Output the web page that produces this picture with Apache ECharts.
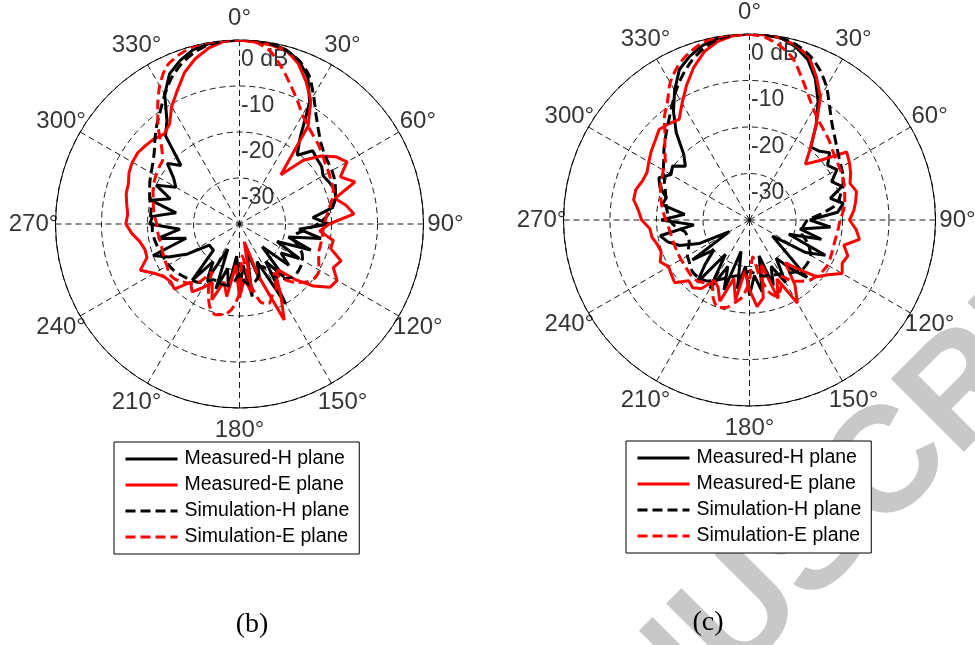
<!DOCTYPE html>
<html>
<head>
<meta charset="utf-8">
<script src="https://cdn.jsdelivr.net/npm/echarts@6/dist/echarts.min.js"></script>
<style>
  html, body { margin: 0; padding: 0; background: #ffffff; }
  #chart { width: 975px; height: 645px; }
</style>
</head>
<body>
<div id="chart"></div>
<script>
// Radiation patterns (normalised gain, dB) sampled every 5 degrees.
const angles = [0,5,10,15,20,25,30,35,40,45,50,55,60,65,70,75,80,85,90,95,100,105,110,115,
  120,125,130,135,140,145,150,155,160,165,170,175,180,185,190,195,200,205,210,215,220,225,230,235,
  240,245,250,255,260,265,270,275,280,285,290,295,300,305,310,315,320,325,330,335,340,345,350,355];

// (b)
const bMeasuredH = [0,-0.1,-0.2,-0.8,-2.2,-4.8,-9.5,-17,-20.5,-17.5,-18,-18.2,-19,-18.5,-18,-18.3,
  -19.5,-24,-20.5,-27,-22,-29,-23.5,-31,-25,-29,-26,-33,-25,-30,-20,-31,-27,-34,-24,-31,-25.5,-33,
  -26,-30,-25,-34,-26,-30,-24,-32,-32,-32,-27,-23,-20,-28,-22,-27,-20.5,-21,-26,-20,-24,-20,-24,
  -22.5,-19.5,-22,-15,-12.5,-7.5,-4,-2.2,-0.8,-0.3,0];
const bMeasuredE = [0,-0.3,-0.5,-0.9,-2.8,-5.8,-9,-14,-26,-20.5,-17,-14.5,-13,-15.8,-13.3,-18.5,
  -16.5,-15,-20.5,-22.5,-19.3,-19.5,-16.5,-17.5,-15.5,-16,-19,-23,-27,-26,-22,-17,-28,-36,-25,-28,
  -24,-31,-24,-27,-22.5,-26,-24,-22,-23.5,-20,-20.5,-20,-18.6,-16.2,-18.6,-18.7,-18,-16.5,-15.3,
  -15.6,-15.1,-14.5,-14.3,-13.5,-13.1,-13,-13.4,-13.8,-14.5,-13.5,-10.5,-8,-5,-2.8,-1.2,-0.2];
const bSimH = [0,-0.1,-0.3,-0.9,-2.2,-4.3,-7.8,-11,-13.3,-15,-16,-16.5,-16.8,-17.2,-17.8,-18.5,
  -19.5,-21,-23,-25.5,-27.5,-28,-26.5,-25,-24.2,-23.8,-23.6,-23.7,-24.5,-26,-29,-30,-28,-27,-26.5,
  -27.5,-29,-27.5,-26.5,-26.3,-26.5,-26.6,-25.5,-24.5,-24,-23.5,-23,-22.5,-22.2,-22,-21.8,-21.5,
  -21.2,-21,-21,-20.6,-20.5,-19.8,-19.2,-18.5,-17.8,-17,-15.8,-14,-12,-10,-7.5,-5,-3,-1.5,-0.5,-0.1];
const bSimE = [0,-0.3,-1.8,-4.7,-7.7,-10.3,-12.6,-14,-15,-15.7,-16.5,-17.2,-17.6,-18,-18.3,-19.2,
  -20.2,-21,-21.6,-21.8,-21.8,-21.8,-21.7,-21,-20,-19.8,-20.5,-22,-24,-27,-24,-23,-21.5,-22.5,-27,
  -33,-25,-21.5,-20,-19.6,-21,-24,-28,-24.5,-23.2,-22.3,-21.5,-21.3,-21.8,-22,-22.2,-22.4,-22.3,
  -22.1,-22,-21.5,-21,-20.6,-20,-19.4,-19,-18.6,-18.2,-16,-12.5,-9,-5.3,-2.3,-1,-0.2,0,0];

// (c)
const cMeasuredH = [0,0,-0.3,-1.5,-3.3,-6.5,-10.5,-15,-19.5,-19,-17.5,-19.5,-18.3,-20.5,-18.8,-22,
  -19.5,-21,-27,-22.5,-29,-24,-31,-22,-26,-34,-31,-22.5,-26.5,-30,-24.5,-29,-25,-32,-24.3,-28,-23.8,
  -30,-25,-33,-24,-29,-23,-31,-22.5,-26.5,-30,-25,-35,-28,-24,-21.8,-20.5,-28,-21,-26,-20.9,-21.5,
  -19.5,-18.5,-20.5,-19.8,-22,-20,-15.5,-11.5,-7.8,-4.3,-2.5,-1.1,-0.4,-0.1];
const cMeasuredE = [0,0,-0.3,-1.2,-2.6,-6,-9.5,-15,-19.5,-23,-20,-14.5,-15.2,-16,-17,-16.2,-16.8,
  -17.5,-18.5,-17,-16,-19,-17.5,-18,-17,-19.5,-21,-25,-28,-23,-19.4,-26,-22,-30,-23,-21.3,-25,-29,
  -22.5,-27,-21.4,-24,-25,-22,-21,-21.5,-19,-19.5,-19.9,-18.8,-19.8,-19.5,-18.7,-18.5,-16.8,-16,
  -14.7,-14.7,-15.5,-15.7,-15,-14.2,-13.5,-12.5,-13,-13.6,-11,-8,-5,-2.5,-1,-0.2];
const cSimH = [0,-0.1,-0.3,-1,-2.3,-4.3,-6.9,-10,-12.5,-14.2,-15.5,-16.5,-17.2,-17.8,-18.6,-19.8,
  -21,-24.5,-27.5,-28.2,-28.5,-28.3,-27,-25.8,-24.8,-24.5,-24.4,-24.5,-25.3,-26,-26.5,-27,-27.5,
  -27.5,-28,-28.5,-29,-28.5,-28,-27.5,-27,-26,-25,-24,-23.6,-23.4,-23.6,-24.2,-24.6,-25.5,-26.2,
  -26.2,-25.8,-24,-22.8,-22.3,-21.8,-21.4,-20.7,-19.8,-18.6,-17.5,-16,-14.5,-12.8,-10.7,-8.2,-5.8,
  -3.6,-1.8,-0.6,-0.1];
const cSimE = [0,-0.6,-2,-4,-7.3,-10.2,-12.5,-14,-15,-15.8,-16.7,-17.3,-17.6,-17.9,-18.3,-18.8,
  -19.2,-19.8,-20.5,-20.8,-21,-21.1,-21,-20.8,-20.6,-20.8,-21.2,-21.7,-22.8,-24,-26,-24,-22.5,-24,
  -28,-32,-27,-23.5,-22,-20.5,-20,-21.5,-24,-23.5,-22.8,-22.6,-22.8,-23,-23,-23,-23,-22.9,-22.8,
  -22.5,-22,-21.4,-20.8,-20.2,-19.6,-19.2,-18.6,-17.9,-16.2,-14.3,-11.5,-9.2,-5.9,-3.5,-1.8,-0.6,
  -0.1,0];

const ringLevels = [0, -10, -20, -30];
const angleTicks = [0, 30, 60, 90, 120, 150, 180, 210, 240, 270, 300, 330];
const seriesNames = ['Measured-H plane', 'Measured-E plane', 'Simulation-H plane', 'Simulation-E plane'];
const captions = ['(b)', '(c)'];

const SANS = '"Liberation Sans", Arial, Helvetica, sans-serif';
const SERIF = '"Liberation Serif", "Times New Roman", serif';
const BLACK = '#000000';
const RED = '#ff0000';

// close each trace by repeating its first value at 360 degrees
function closedTrace(values) {
  const pts = values.map((v, i) => [v, angles[i]]);
  pts.push([values[0], 360]);
  return pts;
}

function patternLine(name, polarIndex, values, color, dashed) {
  return {
    name: name,
    type: 'line',
    coordinateSystem: 'polar',
    polarIndex: polarIndex,
    data: closedTrace(values),
    symbol: 'none',
    showSymbol: false,
    smooth: dashed ? 0.25 : false,
    clip: false,
    z: 3,
    lineStyle: { color: color, width: 3, type: dashed ? [10, 5] : 'solid' },
    itemStyle: { color: color },
    emphasis: { disabled: true }
  };
}

function ringLabelSeries(polarIndex) {
  return {
    type: 'scatter',
    name: 'ring-labels-' + polarIndex,
    coordinateSystem: 'polar',
    polarIndex: polarIndex,
    data: ringLevels.map(v => [v, 0]),
    symbolSize: 1,
    itemStyle: { color: 'transparent' },
    silent: true,
    z: 2,
    label: {
      show: true,
      position: [2, 20],
      align: 'left',
      verticalAlign: 'middle',
      color: BLACK,
      fontSize: 23,
      fontFamily: SANS,
      formatter: p => (p.value[0] === 0 ? '0 dB' : String(p.value[0]))
    }
  };
}

function angleLabelSeries(polarIndex) {
  return {
    type: 'scatter',
    name: 'angle-labels-' + polarIndex,
    coordinateSystem: 'polar',
    polarIndex: polarIndex,
    data: angleTicks.map(a => [1, a]),
    symbolSize: 1,
    itemStyle: { color: 'transparent' },
    silent: true,
    label: {
      show: true,
      position: 'inside',
      color: BLACK,
      fontSize: 24,
      fontFamily: SANS,
      formatter: p => p.value[1] + '\u00b0'
    }
  };
}

const gridDash = { color: BLACK, width: 0.9, type: [6, 4] };

function mainAngleAxis(polarIndex) {
  return {
    polarIndex: polarIndex,
    type: 'value', min: 0, max: 360, interval: 30,
    startAngle: 90, clockwise: true,
    axisLine: { show: true, lineStyle: { color: BLACK, width: 1 } },
    axisTick: { show: false },
    axisLabel: { show: false },
    splitLine: { show: true, lineStyle: gridDash },
    z: 1
  };
}
function mainRadiusAxis(polarIndex) {
  return {
    polarIndex: polarIndex,
    type: 'value', min: -40, max: 0, interval: 10,
    axisLine: { show: false }, axisTick: { show: false }, axisLabel: { show: false },
    splitLine: { show: true, lineStyle: gridDash },
    z: 1
  };
}
function labelAngleAxis(polarIndex) {
  return { polarIndex: polarIndex, type: 'value', min: 0, max: 360, startAngle: 90, clockwise: true, show: false };
}
function labelRadiusAxis(polarIndex) {
  return { polarIndex: polarIndex, type: 'value', min: 0, max: 1, show: false };
}

function legendBox(left, top) {
  return {
    left: left, top: top,
    orient: 'vertical',
    data: seriesNames,
    selectedMode: false,
    itemWidth: 52, itemHeight: 20, itemGap: 6,
    padding: [7, 10, 7, 10],
    borderColor: BLACK, borderWidth: 1, borderRadius: 0,
    backgroundColor: '#ffffff',
    textStyle: { color: BLACK, fontSize: 19.5, fontFamily: SANS, padding: [0, 0, 0, 2] },
    itemStyle: { opacity: 0, borderWidth: 0 },
    lineStyle: { width: 3 },
    z: 5
  };
}

const chart = echarts.init(document.getElementById('chart'), null, { renderer: 'canvas' });

chart.setOption({
  animation: false,
  backgroundColor: '#ffffff',
  polar: [
    { center: [239.5, 224], radius: 184 },
    { center: [749.5, 220], radius: 186 },
    { center: [239.5, 224], radius: 206 },
    { center: [749.5, 220], radius: 208 }
  ],
  angleAxis: [mainAngleAxis(0), mainAngleAxis(1), labelAngleAxis(2), labelAngleAxis(3)],
  radiusAxis: [mainRadiusAxis(0), mainRadiusAxis(1), labelRadiusAxis(2), labelRadiusAxis(3)],
  legend: [legendBox(114, 442), legendBox(626, 441)],
  graphic: [
    {
      type: 'text', x: 509, y: 848, rotation: Math.PI / 4, z: -10, silent: true,
      style: {
        text: 'ACCEPTED MANUSCRIPT', fill: '#c8c8c8',
        font: 'bold 150px ' + SANS,
        align: 'center', verticalAlign: 'middle', textAlign: 'center', textVerticalAlign: 'middle'
      }
    },
    {
      type: 'text', x: 252, y: 625, silent: true,
      style: { text: captions[0], fill: BLACK, font: '28px ' + SERIF,
        align: 'center', verticalAlign: 'middle', textAlign: 'center', textVerticalAlign: 'middle' }
    },
    {
      type: 'text', x: 708, y: 623, silent: true,
      style: { text: captions[1], fill: BLACK, font: '28px ' + SERIF,
        align: 'center', verticalAlign: 'middle', textAlign: 'center', textVerticalAlign: 'middle' }
    }
  ],
  series: [
    ringLabelSeries(0),
    patternLine(seriesNames[0], 0, bMeasuredH, BLACK, false),
    patternLine(seriesNames[1], 0, bMeasuredE, RED, false),
    patternLine(seriesNames[2], 0, bSimH, BLACK, true),
    patternLine(seriesNames[3], 0, bSimE, RED, true),
    ringLabelSeries(1),
    patternLine(seriesNames[0], 1, cMeasuredH, BLACK, false),
    patternLine(seriesNames[1], 1, cMeasuredE, RED, false),
    patternLine(seriesNames[2], 1, cSimH, BLACK, true),
    patternLine(seriesNames[3], 1, cSimE, RED, true),
    angleLabelSeries(2),
    angleLabelSeries(3)
  ]
});
</script>
</body>
</html>
